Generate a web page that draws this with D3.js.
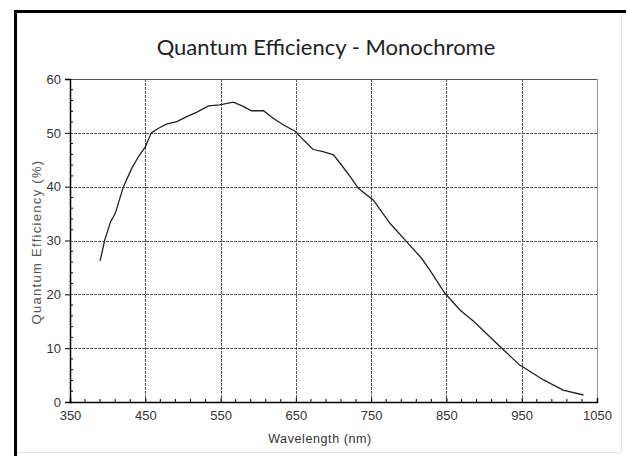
<!DOCTYPE html>
<html>
<head>
<meta charset="utf-8">
<script src="https://cdn.jsdelivr.net/npm/d3@7"></script>
<style>
  body { margin: 0; background: #fff; }
  text { font-family: "Liberation Sans", Arial, sans-serif; fill: #222; }
</style>
</head>
<body>
<div id="qe_chart"></div>
<script>
// data
const wavelengths = [390, 396, 404, 410, 421, 432, 441, 450, 458, 467, 478, 492, 505, 518, 534, 549,
  567, 580, 591, 607, 620, 633, 649, 660, 673, 686, 700, 709, 722, 733, 753, 775, 797, 817, 828,
  848, 868, 886, 919, 947, 979, 1005, 1032];
const efficiency = [26.2, 30.0, 33.5, 35.0, 40.0, 43.4, 45.6, 47.4, 50.0, 50.8, 51.6, 52.1, 53.0, 53.8, 55.0, 55.2,
  55.7, 54.9, 54.1, 54.1, 52.7, 51.5, 50.3, 48.7, 46.9, 46.5, 45.9, 44.3, 41.9, 39.7, 37.5, 33.2, 29.8, 26.7, 24.5,
  20.2, 17.1, 15.0, 10.6, 6.9, 4.1, 2.2, 1.3];
const xTicks = [350, 450, 550, 650, 750, 850, 950, 1050];
const yTicks = [0, 10, 20, 30, 40, 50, 60];
const chartTitle = "Quantum Efficiency - Monochrome";
const xTitle = "Wavelength (nm)";
const yTitle = "Quantum Efficiency (%)";

const W = 626, H = 456;
const margin = {top: 79, right: 29, bottom: 54, left: 70},
    width = W - margin.left - margin.right,
    height = H - margin.top - margin.bottom;

const svg = d3.select("#qe_chart")
  .append("svg")
    .attr("width", W)
    .attr("height", H);

svg.append("rect").attr("width", W).attr("height", H).attr("fill", "#fff");

// outer frame: heavy black top/left, faint right/bottom
svg.append("line").attr("x1", 14).attr("x2", W).attr("y1", 11.5).attr("y2", 11.5)
  .attr("stroke", "#000").attr("stroke-width", 3);
svg.append("line").attr("x1", 15.5).attr("x2", 15.5).attr("y1", 10).attr("y2", H)
  .attr("stroke", "#000").attr("stroke-width", 3);
svg.append("line").attr("x1", 17).attr("x2", 621).attr("y1", 452.5).attr("y2", 452.5)
  .attr("stroke", "#e4e4e4").attr("stroke-width", 1);
svg.append("line").attr("x1", 621.5).attr("x2", 621.5).attr("y1", 13).attr("y2", 453)
  .attr("stroke", "#e4e4e4").attr("stroke-width", 1);

svg.append("text")
  .attr("x", 326).attr("y", 55)
  .attr("text-anchor", "middle")
  .style("font-family", "Lato, 'Open Sans', sans-serif")
  .style("font-size", "22px")
  .style("fill", "#222")
  .text(chartTitle);

const g = svg.append("g")
  .attr("transform", `translate(${margin.left}, ${margin.top})`);

const x = d3.scaleLinear().domain([350, 1050]).range([0, width]);
const y = d3.scaleLinear().domain([0, 60]).range([height, 0]);

// grid
g.append("g")
  .selectAll("line")
  .data(xTicks.slice(1, -1))
  .join("line")
    .attr("x1", d => Math.round(x(d)) + 0.5).attr("x2", d => Math.round(x(d)) + 0.5)
    .attr("y1", 0).attr("y2", height)
    .attr("stroke", "#555").attr("stroke-dasharray", "3,1");
g.append("g")
  .selectAll("line")
  .data(yTicks.slice(1, -1))
  .join("line")
    .attr("x1", 0).attr("x2", width)
    .attr("y1", d => Math.round(y(d)) + 0.5).attr("y2", d => Math.round(y(d)) + 0.5)
    .attr("stroke", "#555").attr("stroke-dasharray", "3,1");

// top and right frame of the plot
g.append("line").attr("x1", 0).attr("x2", width).attr("y1", 0.5).attr("y2", 0.5)
  .attr("stroke", "#555");
g.append("line").attr("x1", width + 0.5).attr("x2", width + 0.5).attr("y1", 0).attr("y2", height)
  .attr("stroke", "#999");

// x axis with minor ticks
const xAxis = g.append("g")
  .attr("transform", `translate(0, ${height})`)
  .call(d3.axisBottom(x).tickValues(xTicks).tickSize(-4).tickPadding(9).tickFormat(d3.format("d")));
xAxis.append("g").selectAll("line")
  .data(d3.range(370, 1050, 20).filter(v => (v - 350) % 100 !== 0))
  .join("line")
    .attr("x1", d => x(d)).attr("x2", d => x(d))
    .attr("y1", 0).attr("y2", -3)
    .attr("stroke", "#000");

// y axis with minor ticks
const yAxis = g.append("g")
  .call(d3.axisLeft(y).tickValues(yTicks).tickSize(5).tickPadding(4));
yAxis.append("g").selectAll("line")
  .data(d3.range(2, 60, 2).filter(v => v % 10 !== 0))
  .join("line")
    .attr("x1", 0).attr("x2", 3)
    .attr("y1", d => y(d)).attr("y2", d => y(d))
    .attr("stroke", "#000");

[xAxis, yAxis].forEach(a => {
  a.select(".domain").attr("stroke", "#000").attr("stroke-width", 1.5);
  a.selectAll(".tick line").attr("stroke", "#000");
  a.selectAll(".tick text")
    .style("font-family", "'Liberation Sans', Arial, sans-serif")
    .style("font-size", "13px")
    .style("fill", "#333");
});

// curve
const points = wavelengths.map((w, i) => ({w: w, v: efficiency[i]}));
g.append("path")
  .datum(points)
  .attr("fill", "none")
  .attr("stroke", "#222")
  .attr("stroke-width", 1.3)
  .attr("d", d3.line().x(d => x(d.w)).y(d => y(d.v)));

// axis titles
svg.append("text")
  .attr("x", 320).attr("y", 443)
  .attr("text-anchor", "middle")
  .style("font-size", "12.5px")
  .style("letter-spacing", "0.6px")
  .style("fill", "#333")
  .text(xTitle);
svg.append("text")
  .attr("transform", "translate(41, 242) rotate(-90)")
  .attr("text-anchor", "middle")
  .style("font-size", "13px")
  .style("letter-spacing", "1.3px")
  .style("fill", "#555")
  .text(yTitle);
</script>
</body>
</html>
